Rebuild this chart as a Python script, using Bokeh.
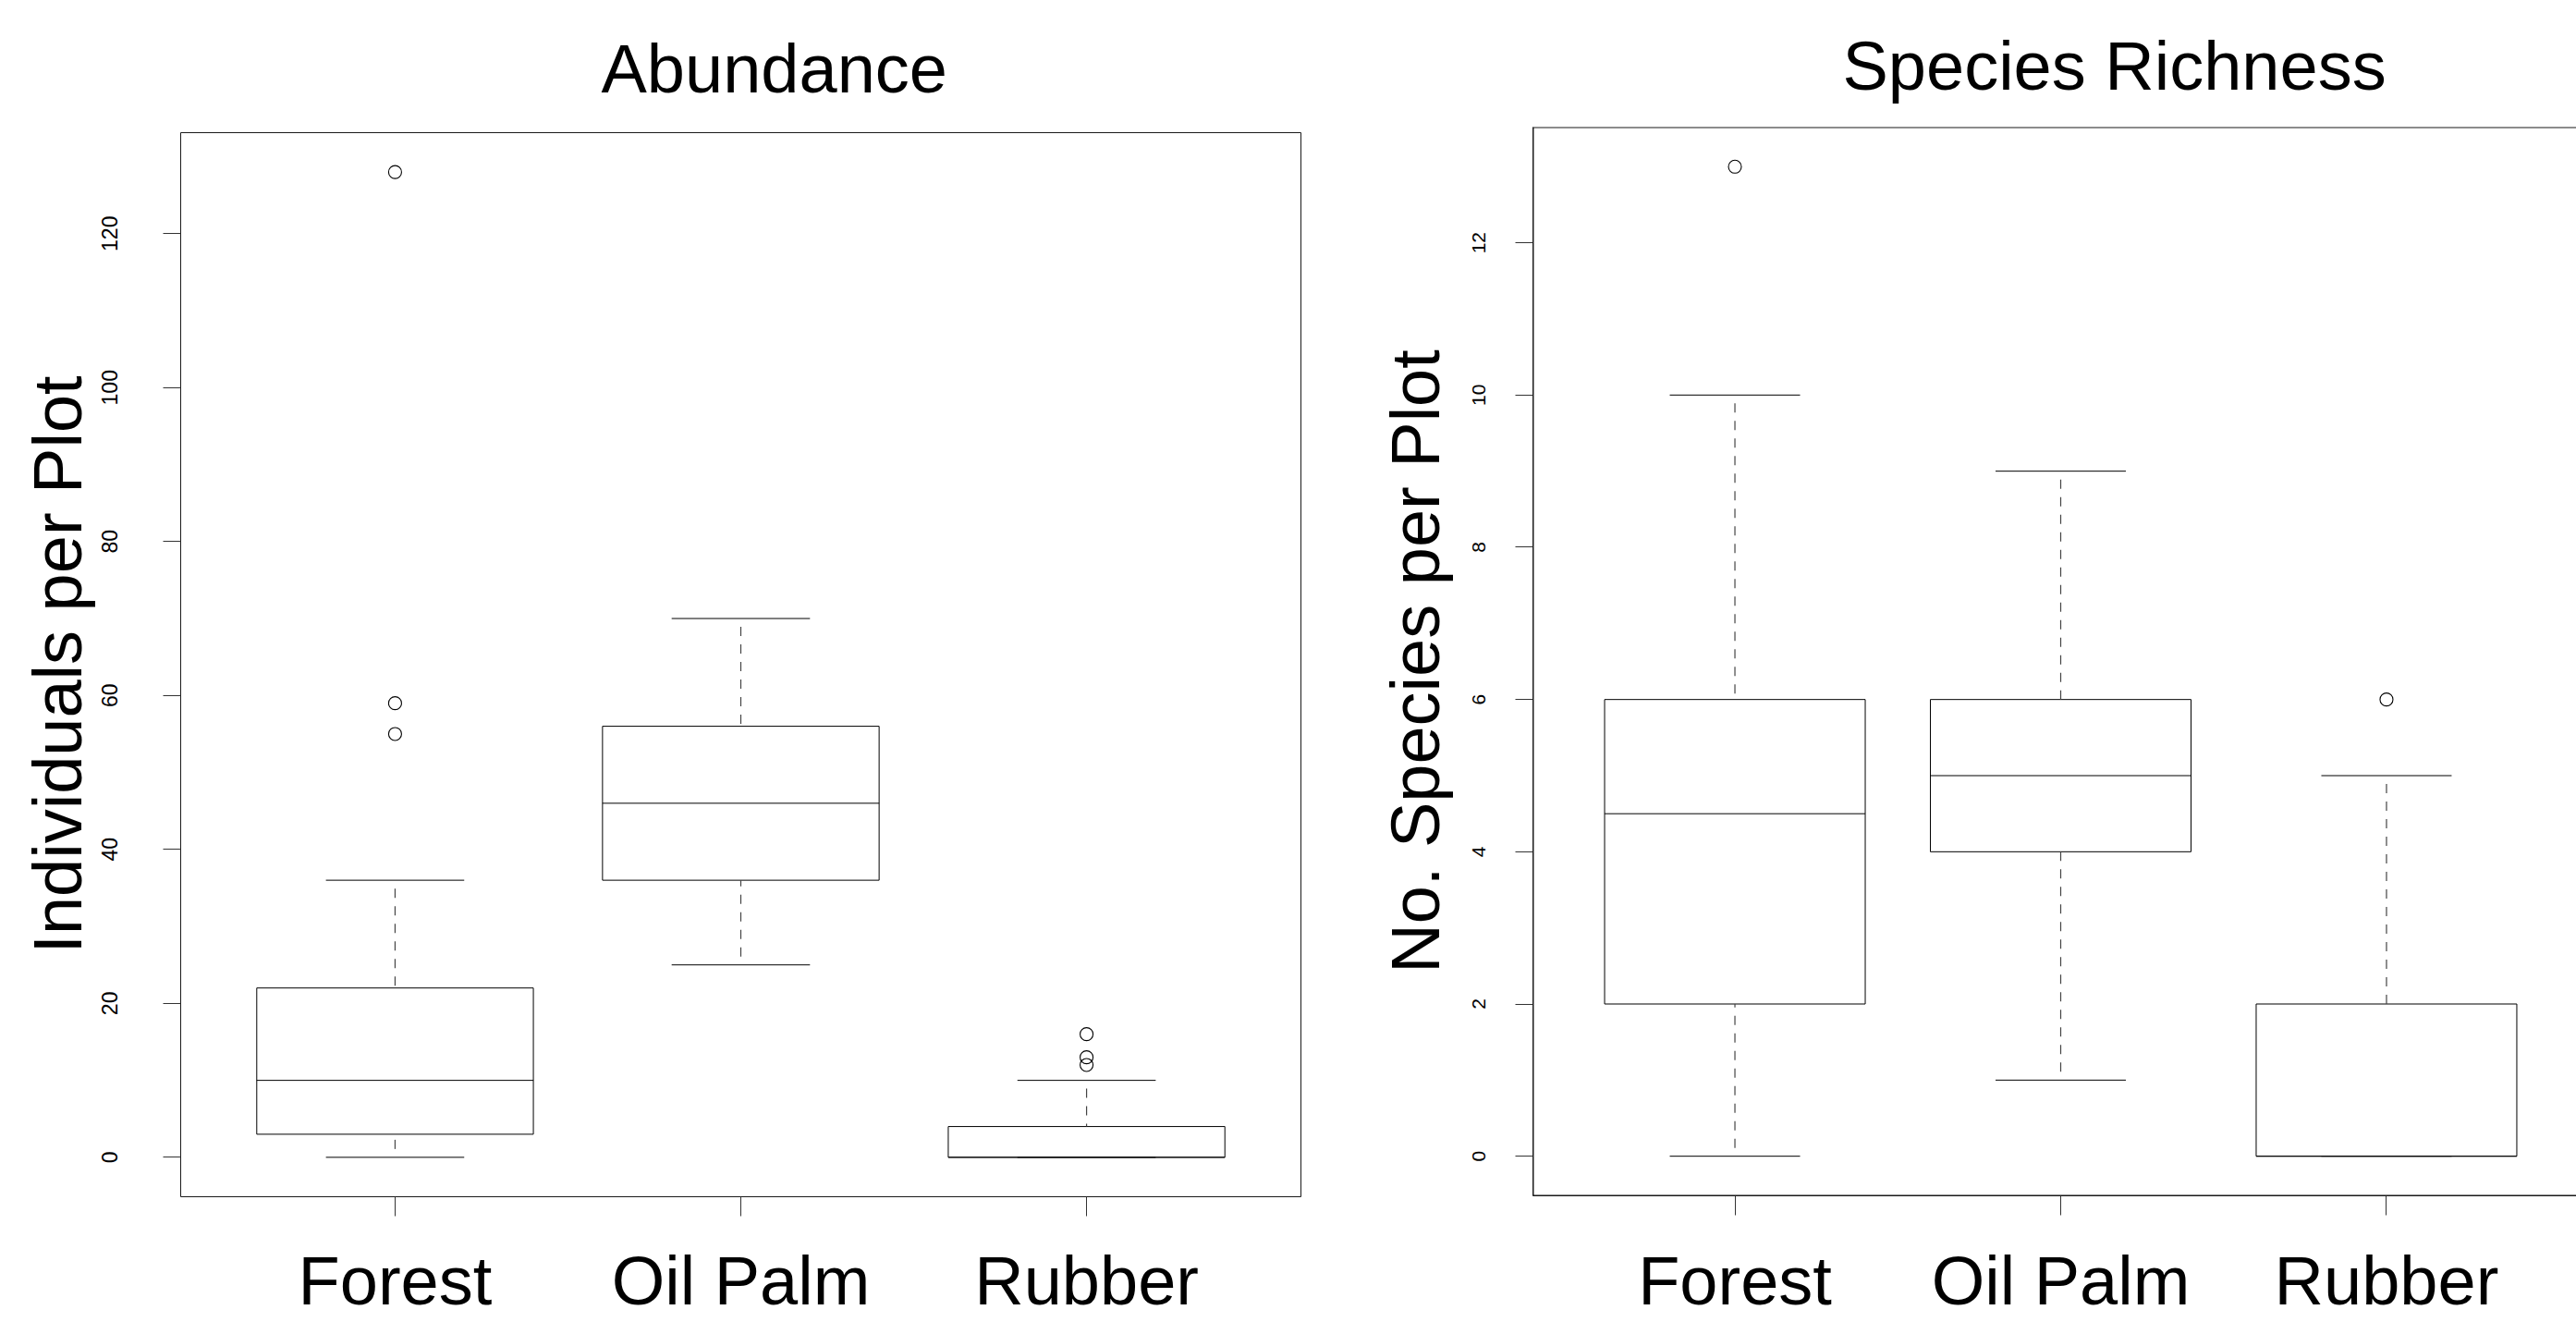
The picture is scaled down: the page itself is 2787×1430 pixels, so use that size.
from bokeh.plotting import figure
from bokeh.layouts import row
from bokeh.models import Range1d, FixedTicker, BoxAnnotation
from bokeh.embed import file_html
from bokeh.resources import INLINE

# ---------------- data ----------------
categories = ["Forest", "Oil Palm", "Rubber"]

abund_lower = [0, 25, 0]
abund_q1 = [3, 36, 0]
abund_median = [10, 46, 0]
abund_q3 = [22, 56, 4]
abund_upper = [36, 70, 10]
abund_outliers = [[55, 59, 128], [], [12, 13, 16]]
abund_ticks = [0, 20, 40, 60, 80, 100, 120]

rich_lower = [0, 1, 0]
rich_q1 = [2, 4, 0]
rich_median = [4.5, 5, 0]
rich_q3 = [6, 6, 2]
rich_upper = [10, 9, 5]
rich_outliers = [[13], [], [6]]
rich_ticks = [0, 2, 4, 6, 8, 10, 12]

FONT = "Liberation Sans"
INK = "#000000"
FRAME = "#1a1a1a"


def padded(lo, hi, frac=0.04):
    span = hi - lo
    return lo - frac * span, hi + frac * span


def y_limits(lower, upper, outliers):
    vals = list(lower) + list(upper) + [v for o in outliers for v in o]
    return padded(min(vals), max(vals))


def draw_boxes(p, lower, q1, med, q3, upper, outliers):
    xs = list(range(1, len(categories) + 1))
    hw = 0.4          # half box width
    cw = hw / 2       # half staple width
    p.vbar(x=xs, width=2 * hw, bottom=q1, top=q3, fill_color="white",
           line_color=INK, line_width=1)
    p.segment(x0=[x - hw for x in xs], x1=[x + hw for x in xs], y0=med, y1=med,
              line_color=INK, line_width=1)
    p.segment(x0=xs, x1=xs, y0=upper, y1=q3, line_color="#444444",
              line_width=1.2, line_dash="10 9", line_dash_offset=-9)
    p.segment(x0=xs, x1=xs, y0=lower, y1=q1, line_color="#444444",
              line_width=1.2, line_dash="10 9", line_dash_offset=-9)
    p.segment(x0=[x - cw for x in xs], x1=[x + cw for x in xs], y0=upper, y1=upper,
              line_color=INK, line_width=1)
    p.segment(x0=[x - cw for x in xs], x1=[x + cw for x in xs], y0=lower, y1=lower,
              line_color=INK, line_width=1)
    ox = [x for x, o in zip(xs, outliers) for _ in o]
    oy = [v for o in outliers for v in o]
    p.scatter(x=ox, y=oy, marker="circle", size=14, fill_color=None,
              line_color=INK, line_width=1.1)
    return xs


def style(p, xs, yticks, ylabel, title, title_offset, title_standoff, tick_font,
          tick_standoff, ylabel_standoff, cat_standoff):
    p.frame_align = False
    p.xgrid.visible = False
    p.ygrid.visible = False
    p.background_fill_color = "white"
    p.border_fill_color = "white"

    p.title.text = title
    p.title.text_font = FONT
    p.title.text_font_size = "74px"
    p.title.text_font_style = "normal"
    p.title.text_color = INK
    p.title.align = "left"
    p.title.offset = title_offset
    p.title.standoff = title_standoff

    xa = p.xaxis[0]
    xa.ticker = FixedTicker(ticks=xs)
    xa.major_label_overrides = {x: c for x, c in zip(xs, categories)}
    xa.major_tick_out = 21
    xa.major_tick_in = 0
    xa.minor_tick_line_color = None
    xa.major_tick_line_color = "#333333"
    xa.major_label_text_font = FONT
    xa.major_label_text_font_size = "74px"
    xa.major_label_text_color = INK
    xa.major_label_standoff = cat_standoff

    ya = p.yaxis[0]
    ya.ticker = FixedTicker(ticks=yticks)
    ya.major_tick_out = 19
    ya.major_tick_in = 0
    ya.minor_tick_line_color = None
    ya.major_tick_line_color = "#333333"
    ya.major_label_orientation = "vertical"
    ya.major_label_text_font = FONT
    ya.major_label_text_font_size = tick_font
    ya.major_label_text_color = INK
    ya.major_label_standoff = tick_standoff
    ya.axis_label = ylabel
    ya.axis_label_text_font = FONT
    ya.axis_label_text_font_size = "74px"
    ya.axis_label_text_font_style = "normal"
    ya.axis_label_text_color = INK
    ya.axis_label_standoff = ylabel_standoff


n = len(categories)
x_lo, x_hi = padded(0.5, n + 0.5)

PAGE_W, H = 2787, 1430

# ---------------- left panel: Abundance ----------------
L_W = 1460
yl0, yl1 = y_limits(abund_lower, abund_upper, abund_outliers)
p1 = figure(width=L_W, height=H, output_backend="svg", toolbar_location=None,
            x_range=Range1d(x_lo, x_hi), y_range=Range1d(yl0, yl1),
            min_border_left=195, min_border_right=53,
            min_border_top=143, min_border_bottom=136)
p1.outline_line_color = FRAME
p1.outline_line_width = 1
xs = draw_boxes(p1, abund_lower, abund_q1, abund_median, abund_q3, abund_upper,
                abund_outliers)
style(p1, xs, abund_ticks, "Individuals per Plot", "Abundance", 455, 55, "23px", 49, 4, 28)
p1.xaxis.axis_line_color = None
p1.yaxis.axis_line_color = None

# ---------------- right panel: Species Richness (cropped at right edge) --------
R_W = PAGE_W - L_W
R_BL = 198
frame_w = R_W - R_BL
full_frame_w = 1142      # width the full panel would have; the picture crops it
yr0, yr1 = y_limits(rich_lower, rich_upper, rich_outliers)
p2 = figure(width=R_W, height=H, output_backend="svg", toolbar_location=None,
            x_range=Range1d(x_lo, x_lo + (x_hi - x_lo) * frame_w / full_frame_w),
            y_range=Range1d(yr0, yr1),
            min_border_left=R_BL, min_border_right=0,
            min_border_top=137, min_border_bottom=137)
p2.outline_line_color = None
xs = draw_boxes(p2, rich_lower, rich_q1, rich_median, rich_q3, rich_upper,
                rich_outliers)
style(p2, xs, rich_ticks, "No. Species per Plot", "Species Richness", 335, 49, "21px",
      32, 18, 29)
p2.xaxis.axis_line_color = FRAME
p2.yaxis.axis_line_color = FRAME
# plot box whose right side lies past the cropped edge (only its top edge shows)
p2.add_layout(BoxAnnotation(right=x_hi, fill_color=None, line_color=FRAME,
                            line_width=2, line_alpha=1))

layout = row(p1, p2)
open("out.html", "w").write(file_html(layout, INLINE))
